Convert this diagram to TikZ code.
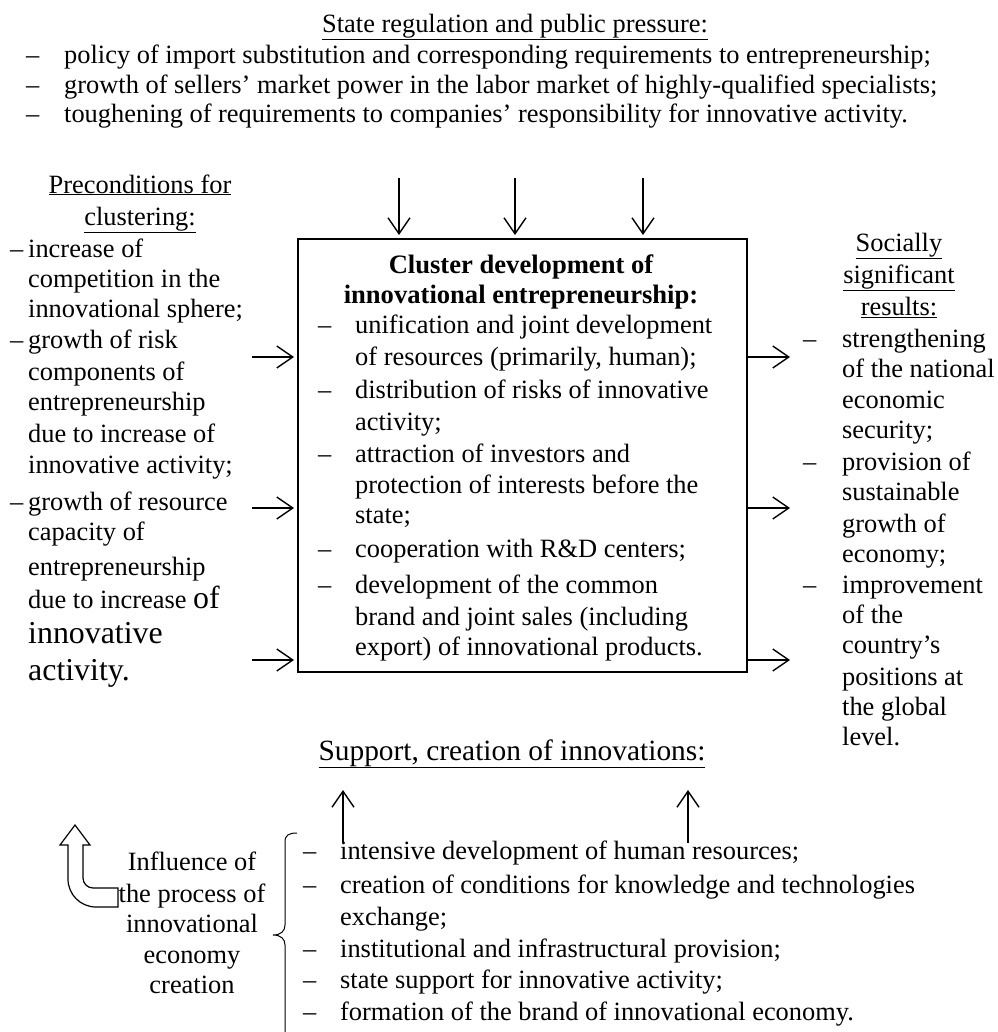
\documentclass[tikz,border=0pt]{standalone}
\usepackage{fontspec}
\setmainfont{Liberation Serif}
\usetikzlibrary{arrows.meta}
\begin{document}
\begin{tikzpicture}[x=1bp,y=-1bp,
  ln/.style={font=\fontsize{26.5}{31}\selectfont, inner sep=0pt, anchor=base west},
  lnc/.style={ln, anchor=base},
  bold/.style={lnc, font=\bfseries\fontsize{26.7}{31}\selectfont},
  bigc/.style={font=\fontsize{29.5}{35}\selectfont, inner sep=0pt, anchor=base},
  big/.style={font=\fontsize{32}{38}\selectfont, inner sep=0pt, anchor=base west},
  arr/.style={line width=1.4bp, -{Straight Barb[length=16bp,width=22bp,line width=1.4bp]}},
]
\useasboundingbox (0,0) rectangle (998,1032);

% ---------- top: state regulation ----------
\node[lnc] (tophead) at (515,32) {\underline{State regulation and public pressure:}};
\foreach \y [count=\i] in {63,93,122} \node[ln] (topd\i) at (26,\y) {–};
\node[ln] (top1) at (64,63) {policy of import substitution and corresponding requirements to entrepreneurship;};
\node[ln] (top2) at (64,93) {growth of sellers’ market power in the labor market of highly-qualified specialists;};
\node[ln] (top3) at (64,122) {toughening of requirements to companies’ responsibility for innovative activity.};

% ---------- central box ----------
\node[draw, line width=1.6bp, minimum width=449bp, minimum height=433bp, anchor=north west, inner sep=0pt] (box) at (297,238) {};
\node[bold] (bt1) at (521,273) {Cluster development of};
\node[bold] (bt2) at (521,303) {innovational entrepreneurship:};
\foreach \y [count=\i] in {333,398,462,557,593} \node[ln] (bd\i) at (318,\y) {–};
\foreach \y/\s [count=\i] in {333/unification and joint development,
  365/{of resources (primarily, human);},
  398/distribution of risks of innovative,
  430/activity;,
  462/attraction of investors and,
  493/protection of interests before the,
  523/state;,
  557/cooperation with R\&D centers;,
  593/development of the common,
  625/brand and joint sales (including,
  655/export) of innovational products.}
  \node[ln] (b\i) at (355,\y) {\s};

% ---------- left column ----------
\node[lnc] (lh1) at (140,193) {\underline{Preconditions for}};
\node[lnc] (lh2) at (140,225) {\underline{clustering:}};
\foreach \y [count=\i] in {257,348,510} \node[ln] (ld\i) at (10,\y) {–};
\foreach \y/\s [count=\i] in {257/increase of,
  287/competition in the,
  317/innovational sphere;,
  348/growth of risk,
  380/components of,
  410/entrepreneurship,
  442/due to increase of,
  473/innovative activity;,
  510/growth of resource,
  540/capacity of,
  575/entrepreneurship}
  \node[ln] (l\i) at (28,\y) {\s};
\node[ln] (l12) at (28,608) {due to increase {\fontsize{32}{38}\selectfont of}};
\node[big] (l13) at (28,643) {innovative};
\node[big] (l14) at (28,680) {activity.};

% ---------- right column ----------
\node[lnc] (rh1) at (899,251) {\underline{Socially}};
\node[lnc] (rh2) at (899,283) {\underline{significant}};
\node[lnc] (rh3) at (899,315) {\underline{results:}};
\foreach \y [count=\i] in {347,470,593} \node[ln] (rd\i) at (803,\y) {–};
\foreach \y/\s [count=\i] in {347/strengthening,
  377/of the national,
  408/economic,
  438/security;,
  470/provision of,
  500/sustainable,
  532/growth of,
  562/economy;,
  593/improvement,
  623/of the,
  653/country’s,
  685/positions at,
  715/the global,
  745/level.}
  \node[ln] (r\i) at (842,\y) {\s};

% ---------- bottom ----------
\node[bigc] (bhead) at (512,760) {\underline{Support, creation of innovations:}};
\foreach \y [count=\i] in {859,893,957,988,1020} \node[ln] (sd\i) at (303,\y) {–};
\foreach \y/\s [count=\i] in {859/intensive development of human resources;,
  893/creation of conditions for knowledge and technologies,
  925/exchange;,
  957/institutional and infrastructural provision;,
  988/state support for innovative activity;,
  1020/formation of the brand of innovational economy.}
  \node[ln] (s\i) at (340,\y) {\s};
\foreach \y/\s [count=\i] in {870/Influence of,
  902/the process of,
  932/innovational,
  963/economy,
  993/creation}
  \node[lnc] (inf\i) at (192,\y) {\s};

% brace
\draw[line width=1bp] (297,833) .. controls (289,833) and (285,835) .. (285,842)
  -- (285,925) .. controls (285,931) and (281,935) .. (273,935)
  .. controls (281,935) and (285,939) .. (285,945) -- (285,1032);

% hollow bent arrow
\draw[line width=1.2bp] (75,825) -- (90,845) -- (83,845) -- (83,878)
  .. controls (83,883.5) and (87.5,888) .. (93,888) -- (118,888) -- (118,907)
  -- (96,907) .. controls (80.5,907) and (68,894.5) .. (68,879)
  -- (68,845) -- (60,845) -- cycle;

% ---------- arrows ----------
\foreach \x [count=\i] in {399,515,643} {
  \coordinate (dn\i) at (\x,178);
  \draw[arr] (dn\i) -- ([yshift=3bp]dn\i |- box.north);
}
\foreach \y [count=\i] in {357,508,660} {
  \coordinate (li\i) at (252,\y);
  \draw[arr] (li\i) -- ([xshift=-3bp]li\i -| box.west);
  \coordinate (ro\i) at (790,\y);
  \draw[arr] (ro\i -| box.east) -- (ro\i);
}
\foreach \x [count=\i] in {343,688} {
  \coordinate (ub\i) at (\x,843);
  \coordinate (ut\i) at (\x,790);
  \draw[arr] (ub\i) -- (ut\i);
}
\end{tikzpicture}
\end{document}
